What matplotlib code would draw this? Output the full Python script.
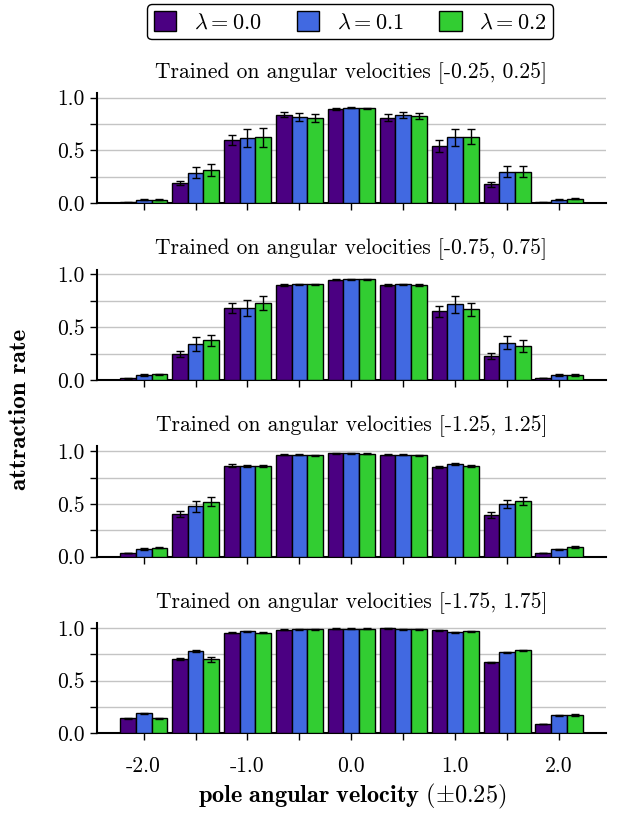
import numpy as np
import matplotlib
matplotlib.use("Agg")
import matplotlib.pyplot as plt

plt.rcParams['font.family'] = ['cmr10', 'DejaVu Serif']
plt.rcParams['mathtext.fontset'] = 'cm'
plt.rcParams['axes.formatter.use_mathtext'] = True

# ---- data ----
velocities = [-2.0, -1.5, -1.0, -0.5, 0.0, 0.5, 1.0, 1.5, 2.0]
tick_labels = ['-2.0', '', '-1.0', '', '0.0', '', '1.0', '', '2.0']
lambdas = ['0.0', '0.1', '0.2']
colors = ['#4b0082', '#4169e1', '#32cd32']
ranges = ['[-0.25, 0.25]', '[-0.75, 0.75]', '[-1.25, 1.25]', '[-1.75, 1.75]']

# rows: lambda 0.0, 0.1, 0.2
rate_025 = [[0.010, 0.190, 0.600, 0.840, 0.893, 0.810, 0.540, 0.180, 0.010],
            [0.035, 0.290, 0.620, 0.820, 0.905, 0.835, 0.625, 0.300, 0.035],
            [0.035, 0.315, 0.625, 0.810, 0.900, 0.826, 0.630, 0.300, 0.045]]
err_025 = [[0.003, 0.020, 0.047, 0.025, 0.005, 0.033, 0.058, 0.024, 0.003],
           [0.005, 0.055, 0.088, 0.038, 0.005, 0.028, 0.083, 0.050, 0.005],
           [0.005, 0.055, 0.090, 0.038, 0.005, 0.025, 0.072, 0.050, 0.005]]

rate_075 = [[0.015, 0.243, 0.685, 0.900, 0.950, 0.902, 0.653, 0.227, 0.020],
            [0.047, 0.344, 0.685, 0.905, 0.956, 0.905, 0.716, 0.353, 0.047],
            [0.054, 0.375, 0.725, 0.905, 0.956, 0.902, 0.669, 0.322, 0.047]]
err_075 = [[0.003, 0.028, 0.049, 0.008, 0.005, 0.008, 0.052, 0.030, 0.003],
           [0.005, 0.065, 0.076, 0.008, 0.005, 0.008, 0.077, 0.060, 0.005],
           [0.005, 0.055, 0.066, 0.008, 0.005, 0.008, 0.063, 0.060, 0.005]]

rate_125 = [[0.035, 0.405, 0.864, 0.968, 0.978, 0.968, 0.854, 0.396, 0.035],
            [0.073, 0.478, 0.858, 0.968, 0.978, 0.968, 0.880, 0.497, 0.070],
            [0.085, 0.520, 0.858, 0.959, 0.975, 0.959, 0.858, 0.528, 0.092]]
err_125 = [[0.004, 0.030, 0.010, 0.005, 0.005, 0.005, 0.010, 0.030, 0.004],
           [0.005, 0.050, 0.012, 0.005, 0.005, 0.005, 0.012, 0.040, 0.005],
           [0.005, 0.043, 0.010, 0.005, 0.005, 0.005, 0.010, 0.040, 0.005]]

rate_175 = [[0.145, 0.703, 0.953, 0.981, 0.990, 0.997, 0.978, 0.672, 0.088],
            [0.190, 0.776, 0.968, 0.987, 0.990, 0.987, 0.959, 0.766, 0.170],
            [0.142, 0.700, 0.953, 0.987, 0.990, 0.987, 0.965, 0.785, 0.173]]
err_175 = [[0.005, 0.006, 0.005, 0.004, 0.004, 0.004, 0.004, 0.006, 0.004],
           [0.006, 0.010, 0.005, 0.004, 0.004, 0.004, 0.005, 0.008, 0.006],
           [0.005, 0.022, 0.005, 0.004, 0.004, 0.004, 0.005, 0.008, 0.006]]

rates = [rate_025, rate_075, rate_125, rate_175]
errs = [err_025, err_075, err_125, err_175]

# ---- figure ----
fig = plt.figure(figsize=(6.17, 8.14), dpi=100)
bottoms = [0.7503, 0.5332, 0.3161, 0.0991]
bar_w = 0.152
x = np.array(velocities)

handles = []
for k in range(4):
    ax = fig.add_axes([0.157, bottoms[k], 0.825, 0.1355])
    for i in range(3):
        b = ax.bar(x + (i - 1) * bar_w, rates[k][i], bar_w, yerr=errs[k][i],
                   color=colors[i], edgecolor='black', linewidth=1.0,
                   capsize=3, error_kw=dict(elinewidth=1.0, capthick=1.0, ecolor='black'),
                   zorder=3, label=r'$\lambda = %s$' % lambdas[i])
        if k == 0:
            handles.append(b)
    ax.set_xlim(-2.45, 2.45)
    ax.set_ylim(0, 1.045)
    ax.set_yticks([0.0, 0.25, 0.5, 0.75, 1.0])
    ax.set_yticklabels(['0.0', '', '0.5', '', '1.0'])
    ax.set_xticks(velocities)
    ax.set_xticklabels(tick_labels if k == 3 else [''] * 9)
    ax.yaxis.grid(True, color='#c4c4c4', linewidth=1.0, zorder=0)
    ax.set_axisbelow(True)
    for s in ['top', 'right']:
        ax.spines[s].set_visible(False)
    for s in ['left', 'bottom']:
        ax.spines[s].set_linewidth(1.5)
    ax.tick_params(axis='both', length=5, width=1.0, labelsize=15.5, pad=4)
    ax.tick_params(axis='x', pad=12)
    ax.set_title('Trained on angular velocities ' + ranges[k], fontsize=15.5, pad=11)

fig.text(0.032, 0.497, 'attraction rate', family='cmb10', fontsize=18,
         rotation=90, ha='center', va='center')
fig.text(0.571, 0.022, r'$\mathbf{pole\ angular\ velocity}\ (\pm0.25)$',
         fontsize=17.5, ha='center', va='center')

fig.legend(handles=handles, loc='upper center', bbox_to_anchor=(0.568, 0.995),
           ncol=3, fontsize=16, frameon=True, fancybox=True, edgecolor='black',
           framealpha=1.0, handlelength=1.0, handleheight=1.0, columnspacing=1.6,
           borderpad=0.3, handletextpad=0.8, borderaxespad=0.0)

fig.savefig('out.png', dpi=100)
